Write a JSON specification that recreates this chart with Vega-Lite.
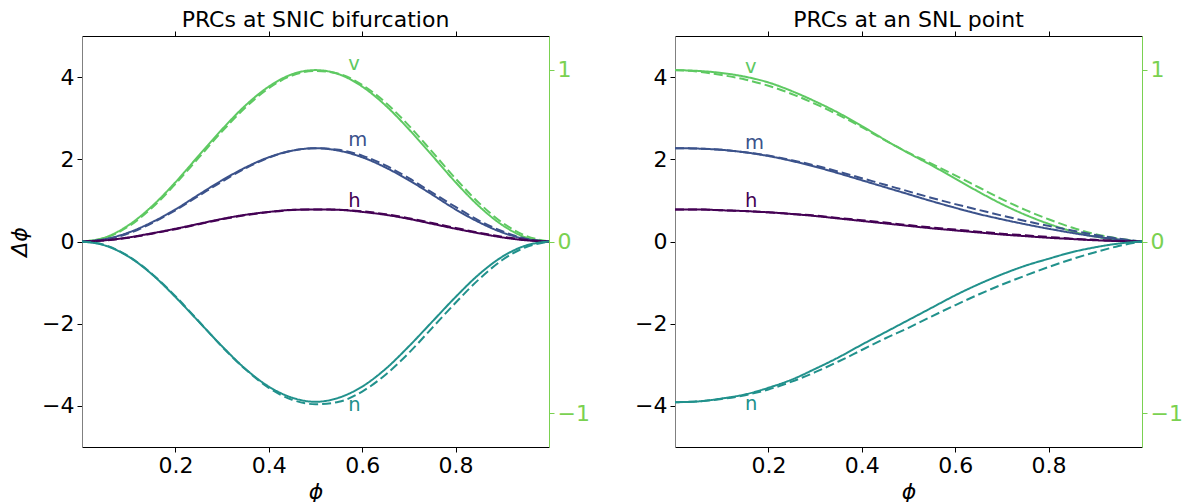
{
"$schema": "https://vega.github.io/schema/vega-lite/v6.json",
"background": "white",
"padding": {"left": 8, "top": 8, "right": 0, "bottom": 0},
"spacing": 44,
"config": {
  "font": "DejaVu Sans",
  "view": {"stroke": null},
  "axis": {"labelFont": "DejaVu Sans", "titleFont": "DejaVu Sans", "labelFontSize": 22, "titleFontSize": 22, "titleFontWeight": "normal", "labelColor": "black", "titleColor": "black", "tickColor": "black", "domainColor": "black", "grid": false, "tickSize": 5, "labelPadding": 3, "labelFlush": false, "tickWidth": 1, "domainWidth": 1},
  "title": {"font": "DejaVu Sans", "fontSize": 22, "fontWeight": "normal", "color": "black"}
},
"datasets": {
"snic": [
{"s":"v","d":"solid","x":0,"y":0},{"s":"v","d":"solid","x":0.05,"y":0.10},{"s":"v","d":"solid","x":0.1,"y":0.40},{"s":"v","d":"solid","x":0.15,"y":0.86},{"s":"v","d":"solid","x":0.2,"y":1.44},{"s":"v","d":"solid","x":0.25,"y":2.09},{"s":"v","d":"solid","x":0.3,"y":2.73},{"s":"v","d":"solid","x":0.35,"y":3.31},{"s":"v","d":"solid","x":0.4,"y":3.77},{"s":"v","d":"solid","x":0.45,"y":4.07},{"s":"v","d":"solid","x":0.5,"y":4.17},{"s":"v","d":"solid","x":0.55,"y":4.07},{"s":"v","d":"solid","x":0.6,"y":3.77},{"s":"v","d":"solid","x":0.65,"y":3.31},{"s":"v","d":"solid","x":0.7,"y":2.73},{"s":"v","d":"solid","x":0.75,"y":2.09},{"s":"v","d":"solid","x":0.8,"y":1.44},{"s":"v","d":"solid","x":0.85,"y":0.86},{"s":"v","d":"solid","x":0.9,"y":0.40},{"s":"v","d":"solid","x":0.95,"y":0.10},{"s":"v","d":"solid","x":1,"y":0},
{"s":"v","d":"dashed","x":0,"y":0},{"s":"v","d":"dashed","x":0.05,"y":0.09},{"s":"v","d":"dashed","x":0.1,"y":0.37},{"s":"v","d":"dashed","x":0.15,"y":0.82},{"s":"v","d":"dashed","x":0.2,"y":1.40},{"s":"v","d":"dashed","x":0.25,"y":2.04},{"s":"v","d":"dashed","x":0.3,"y":2.68},{"s":"v","d":"dashed","x":0.35,"y":3.26},{"s":"v","d":"dashed","x":0.4,"y":3.73},{"s":"v","d":"dashed","x":0.45,"y":4.04},{"s":"v","d":"dashed","x":0.5,"y":4.15},{"s":"v","d":"dashed","x":0.55,"y":4.08},{"s":"v","d":"dashed","x":0.6,"y":3.81},{"s":"v","d":"dashed","x":0.65,"y":3.38},{"s":"v","d":"dashed","x":0.7,"y":2.82},{"s":"v","d":"dashed","x":0.75,"y":2.18},{"s":"v","d":"dashed","x":0.8,"y":1.53},{"s":"v","d":"dashed","x":0.85,"y":0.94},{"s":"v","d":"dashed","x":0.9,"y":0.46},{"s":"v","d":"dashed","x":0.95,"y":0.14},{"s":"v","d":"dashed","x":1,"y":0},
{"s":"m","d":"solid","x":0,"y":0},{"s":"m","d":"solid","x":0.05,"y":0.06},{"s":"m","d":"solid","x":0.1,"y":0.22},{"s":"m","d":"solid","x":0.15,"y":0.47},{"s":"m","d":"solid","x":0.2,"y":0.78},{"s":"m","d":"solid","x":0.25,"y":1.14},{"s":"m","d":"solid","x":0.3,"y":1.49},{"s":"m","d":"solid","x":0.35,"y":1.80},{"s":"m","d":"solid","x":0.4,"y":2.05},{"s":"m","d":"solid","x":0.45,"y":2.21},{"s":"m","d":"solid","x":0.5,"y":2.27},{"s":"m","d":"solid","x":0.55,"y":2.21},{"s":"m","d":"solid","x":0.6,"y":2.05},{"s":"m","d":"solid","x":0.65,"y":1.80},{"s":"m","d":"solid","x":0.7,"y":1.49},{"s":"m","d":"solid","x":0.75,"y":1.14},{"s":"m","d":"solid","x":0.8,"y":0.78},{"s":"m","d":"solid","x":0.85,"y":0.47},{"s":"m","d":"solid","x":0.9,"y":0.22},{"s":"m","d":"solid","x":0.95,"y":0.06},{"s":"m","d":"solid","x":1,"y":0},
{"s":"m","d":"dashed","x":0,"y":0},{"s":"m","d":"dashed","x":0.05,"y":0.05},{"s":"m","d":"dashed","x":0.1,"y":0.20},{"s":"m","d":"dashed","x":0.15,"y":0.45},{"s":"m","d":"dashed","x":0.2,"y":0.76},{"s":"m","d":"dashed","x":0.25,"y":1.11},{"s":"m","d":"dashed","x":0.3,"y":1.46},{"s":"m","d":"dashed","x":0.35,"y":1.78},{"s":"m","d":"dashed","x":0.4,"y":2.04},{"s":"m","d":"dashed","x":0.45,"y":2.21},{"s":"m","d":"dashed","x":0.5,"y":2.27},{"s":"m","d":"dashed","x":0.55,"y":2.23},{"s":"m","d":"dashed","x":0.6,"y":2.09},{"s":"m","d":"dashed","x":0.65,"y":1.85},{"s":"m","d":"dashed","x":0.7,"y":1.54},{"s":"m","d":"dashed","x":0.75,"y":1.19},{"s":"m","d":"dashed","x":0.8,"y":0.84},{"s":"m","d":"dashed","x":0.85,"y":0.51},{"s":"m","d":"dashed","x":0.9,"y":0.25},{"s":"m","d":"dashed","x":0.95,"y":0.07},{"s":"m","d":"dashed","x":1,"y":0},
{"s":"h","d":"solid","x":0,"y":0},{"s":"h","d":"solid","x":0.05,"y":0.03},{"s":"h","d":"solid","x":0.1,"y":0.10},{"s":"h","d":"solid","x":0.15,"y":0.20},{"s":"h","d":"solid","x":0.2,"y":0.31},{"s":"h","d":"solid","x":0.25,"y":0.43},{"s":"h","d":"solid","x":0.3,"y":0.55},{"s":"h","d":"solid","x":0.35,"y":0.65},{"s":"h","d":"solid","x":0.4,"y":0.72},{"s":"h","d":"solid","x":0.45,"y":0.77},{"s":"h","d":"solid","x":0.5,"y":0.78},{"s":"h","d":"solid","x":0.55,"y":0.77},{"s":"h","d":"solid","x":0.6,"y":0.72},{"s":"h","d":"solid","x":0.65,"y":0.65},{"s":"h","d":"solid","x":0.7,"y":0.55},{"s":"h","d":"solid","x":0.75,"y":0.43},{"s":"h","d":"solid","x":0.8,"y":0.31},{"s":"h","d":"solid","x":0.85,"y":0.20},{"s":"h","d":"solid","x":0.9,"y":0.10},{"s":"h","d":"solid","x":0.95,"y":0.03},{"s":"h","d":"solid","x":1,"y":0},
{"s":"h","d":"dashed","x":0,"y":0},{"s":"h","d":"dashed","x":0.05,"y":0.025},{"s":"h","d":"dashed","x":0.1,"y":0.09},{"s":"h","d":"dashed","x":0.15,"y":0.19},{"s":"h","d":"dashed","x":0.2,"y":0.30},{"s":"h","d":"dashed","x":0.25,"y":0.42},{"s":"h","d":"dashed","x":0.3,"y":0.54},{"s":"h","d":"dashed","x":0.35,"y":0.64},{"s":"h","d":"dashed","x":0.4,"y":0.715},{"s":"h","d":"dashed","x":0.45,"y":0.765},{"s":"h","d":"dashed","x":0.5,"y":0.78},{"s":"h","d":"dashed","x":0.55,"y":0.775},{"s":"h","d":"dashed","x":0.6,"y":0.735},{"s":"h","d":"dashed","x":0.65,"y":0.665},{"s":"h","d":"dashed","x":0.7,"y":0.565},{"s":"h","d":"dashed","x":0.75,"y":0.45},{"s":"h","d":"dashed","x":0.8,"y":0.33},{"s":"h","d":"dashed","x":0.85,"y":0.215},{"s":"h","d":"dashed","x":0.9,"y":0.115},{"s":"h","d":"dashed","x":0.95,"y":0.04},{"s":"h","d":"dashed","x":1,"y":0},
{"s":"n","d":"solid","x":0,"y":0},{"s":"n","d":"solid","x":0.05,"y":-0.10},{"s":"n","d":"solid","x":0.1,"y":-0.37},{"s":"n","d":"solid","x":0.15,"y":-0.80},{"s":"n","d":"solid","x":0.2,"y":-1.35},{"s":"n","d":"solid","x":0.25,"y":-1.95},{"s":"n","d":"solid","x":0.3,"y":-2.55},{"s":"n","d":"solid","x":0.35,"y":-3.10},{"s":"n","d":"solid","x":0.4,"y":-3.53},{"s":"n","d":"solid","x":0.45,"y":-3.80},{"s":"n","d":"solid","x":0.5,"y":-3.90},{"s":"n","d":"solid","x":0.55,"y":-3.80},{"s":"n","d":"solid","x":0.6,"y":-3.53},{"s":"n","d":"solid","x":0.65,"y":-3.10},{"s":"n","d":"solid","x":0.7,"y":-2.55},{"s":"n","d":"solid","x":0.75,"y":-1.95},{"s":"n","d":"solid","x":0.8,"y":-1.35},{"s":"n","d":"solid","x":0.85,"y":-0.80},{"s":"n","d":"solid","x":0.9,"y":-0.37},{"s":"n","d":"solid","x":0.95,"y":-0.10},{"s":"n","d":"solid","x":1,"y":0},
{"s":"n","d":"dashed","x":0,"y":0},{"s":"n","d":"dashed","x":0.05,"y":-0.09},{"s":"n","d":"dashed","x":0.1,"y":-0.36},{"s":"n","d":"dashed","x":0.15,"y":-0.79},{"s":"n","d":"dashed","x":0.2,"y":-1.33},{"s":"n","d":"dashed","x":0.25,"y":-1.94},{"s":"n","d":"dashed","x":0.3,"y":-2.56},{"s":"n","d":"dashed","x":0.35,"y":-3.11},{"s":"n","d":"dashed","x":0.4,"y":-3.56},{"s":"n","d":"dashed","x":0.45,"y":-3.85},{"s":"n","d":"dashed","x":0.5,"y":-3.96},{"s":"n","d":"dashed","x":0.55,"y":-3.90},{"s":"n","d":"dashed","x":0.6,"y":-3.65},{"s":"n","d":"dashed","x":0.65,"y":-3.24},{"s":"n","d":"dashed","x":0.7,"y":-2.71},{"s":"n","d":"dashed","x":0.75,"y":-2.10},{"s":"n","d":"dashed","x":0.8,"y":-1.49},{"s":"n","d":"dashed","x":0.85,"y":-0.92},{"s":"n","d":"dashed","x":0.9,"y":-0.45},{"s":"n","d":"dashed","x":0.95,"y":-0.14},{"s":"n","d":"dashed","x":1,"y":0}
],
"snl": [
{"s":"v","d":"solid","x":0,"y":4.17},{"s":"v","d":"solid","x":0.05,"y":4.15},{"s":"v","d":"solid","x":0.1,"y":4.10},{"s":"v","d":"solid","x":0.15,"y":4.01},{"s":"v","d":"solid","x":0.2,"y":3.87},{"s":"v","d":"solid","x":0.25,"y":3.66},{"s":"v","d":"solid","x":0.3,"y":3.41},{"s":"v","d":"solid","x":0.35,"y":3.13},{"s":"v","d":"solid","x":0.4,"y":2.81},{"s":"v","d":"solid","x":0.45,"y":2.47},{"s":"v","d":"solid","x":0.5,"y":2.15},{"s":"v","d":"solid","x":0.55,"y":1.85},{"s":"v","d":"solid","x":0.6,"y":1.53},{"s":"v","d":"solid","x":0.65,"y":1.21},{"s":"v","d":"solid","x":0.7,"y":0.91},{"s":"v","d":"solid","x":0.75,"y":0.65},{"s":"v","d":"solid","x":0.8,"y":0.43},{"s":"v","d":"solid","x":0.85,"y":0.25},{"s":"v","d":"solid","x":0.9,"y":0.12},{"s":"v","d":"solid","x":0.95,"y":0.04},{"s":"v","d":"solid","x":1,"y":0},
{"s":"v","d":"dashed","x":0,"y":4.17},{"s":"v","d":"dashed","x":0.05,"y":4.13},{"s":"v","d":"dashed","x":0.1,"y":4.05},{"s":"v","d":"dashed","x":0.15,"y":3.94},{"s":"v","d":"dashed","x":0.2,"y":3.79},{"s":"v","d":"dashed","x":0.25,"y":3.59},{"s":"v","d":"dashed","x":0.3,"y":3.35},{"s":"v","d":"dashed","x":0.35,"y":3.08},{"s":"v","d":"dashed","x":0.4,"y":2.78},{"s":"v","d":"dashed","x":0.45,"y":2.46},{"s":"v","d":"dashed","x":0.5,"y":2.16},{"s":"v","d":"dashed","x":0.55,"y":1.89},{"s":"v","d":"dashed","x":0.6,"y":1.61},{"s":"v","d":"dashed","x":0.65,"y":1.32},{"s":"v","d":"dashed","x":0.7,"y":1.03},{"s":"v","d":"dashed","x":0.75,"y":0.77},{"s":"v","d":"dashed","x":0.8,"y":0.54},{"s":"v","d":"dashed","x":0.85,"y":0.34},{"s":"v","d":"dashed","x":0.9,"y":0.18},{"s":"v","d":"dashed","x":0.95,"y":0.07},{"s":"v","d":"dashed","x":1,"y":0},
{"s":"m","d":"solid","x":0,"y":2.27},{"s":"m","d":"solid","x":0.05,"y":2.26},{"s":"m","d":"solid","x":0.1,"y":2.23},{"s":"m","d":"solid","x":0.15,"y":2.17},{"s":"m","d":"solid","x":0.2,"y":2.08},{"s":"m","d":"solid","x":0.25,"y":1.96},{"s":"m","d":"solid","x":0.3,"y":1.82},{"s":"m","d":"solid","x":0.35,"y":1.66},{"s":"m","d":"solid","x":0.4,"y":1.49},{"s":"m","d":"solid","x":0.45,"y":1.32},{"s":"m","d":"solid","x":0.5,"y":1.15},{"s":"m","d":"solid","x":0.55,"y":0.98},{"s":"m","d":"solid","x":0.6,"y":0.82},{"s":"m","d":"solid","x":0.65,"y":0.67},{"s":"m","d":"solid","x":0.7,"y":0.54},{"s":"m","d":"solid","x":0.75,"y":0.42},{"s":"m","d":"solid","x":0.8,"y":0.31},{"s":"m","d":"solid","x":0.85,"y":0.21},{"s":"m","d":"solid","x":0.9,"y":0.12},{"s":"m","d":"solid","x":0.95,"y":0.05},{"s":"m","d":"solid","x":1,"y":0},
{"s":"m","d":"dashed","x":0,"y":2.27},{"s":"m","d":"dashed","x":0.05,"y":2.26},{"s":"m","d":"dashed","x":0.1,"y":2.23},{"s":"m","d":"dashed","x":0.15,"y":2.17},{"s":"m","d":"dashed","x":0.2,"y":2.09},{"s":"m","d":"dashed","x":0.25,"y":1.98},{"s":"m","d":"dashed","x":0.3,"y":1.85},{"s":"m","d":"dashed","x":0.35,"y":1.70},{"s":"m","d":"dashed","x":0.4,"y":1.54},{"s":"m","d":"dashed","x":0.45,"y":1.38},{"s":"m","d":"dashed","x":0.5,"y":1.22},{"s":"m","d":"dashed","x":0.55,"y":1.06},{"s":"m","d":"dashed","x":0.6,"y":0.91},{"s":"m","d":"dashed","x":0.65,"y":0.77},{"s":"m","d":"dashed","x":0.7,"y":0.63},{"s":"m","d":"dashed","x":0.75,"y":0.50},{"s":"m","d":"dashed","x":0.8,"y":0.38},{"s":"m","d":"dashed","x":0.85,"y":0.27},{"s":"m","d":"dashed","x":0.9,"y":0.16},{"s":"m","d":"dashed","x":0.95,"y":0.07},{"s":"m","d":"dashed","x":1,"y":0},
{"s":"h","d":"solid","x":0,"y":0.78},{"s":"h","d":"solid","x":0.05,"y":0.78},{"s":"h","d":"solid","x":0.1,"y":0.76},{"s":"h","d":"solid","x":0.15,"y":0.74},{"s":"h","d":"solid","x":0.2,"y":0.71},{"s":"h","d":"solid","x":0.25,"y":0.67},{"s":"h","d":"solid","x":0.3,"y":0.62},{"s":"h","d":"solid","x":0.35,"y":0.56},{"s":"h","d":"solid","x":0.4,"y":0.50},{"s":"h","d":"solid","x":0.45,"y":0.44},{"s":"h","d":"solid","x":0.5,"y":0.38},{"s":"h","d":"solid","x":0.55,"y":0.32},{"s":"h","d":"solid","x":0.6,"y":0.27},{"s":"h","d":"solid","x":0.65,"y":0.22},{"s":"h","d":"solid","x":0.7,"y":0.17},{"s":"h","d":"solid","x":0.75,"y":0.13},{"s":"h","d":"solid","x":0.8,"y":0.09},{"s":"h","d":"solid","x":0.85,"y":0.06},{"s":"h","d":"solid","x":0.9,"y":0.03},{"s":"h","d":"solid","x":0.95,"y":0.01},{"s":"h","d":"solid","x":1,"y":0},
{"s":"h","d":"dashed","x":0,"y":0.78},{"s":"h","d":"dashed","x":0.05,"y":0.78},{"s":"h","d":"dashed","x":0.1,"y":0.76},{"s":"h","d":"dashed","x":0.15,"y":0.74},{"s":"h","d":"dashed","x":0.2,"y":0.71},{"s":"h","d":"dashed","x":0.25,"y":0.67},{"s":"h","d":"dashed","x":0.3,"y":0.63},{"s":"h","d":"dashed","x":0.35,"y":0.57},{"s":"h","d":"dashed","x":0.4,"y":0.52},{"s":"h","d":"dashed","x":0.45,"y":0.46},{"s":"h","d":"dashed","x":0.5,"y":0.40},{"s":"h","d":"dashed","x":0.55,"y":0.34},{"s":"h","d":"dashed","x":0.6,"y":0.29},{"s":"h","d":"dashed","x":0.65,"y":0.24},{"s":"h","d":"dashed","x":0.7,"y":0.19},{"s":"h","d":"dashed","x":0.75,"y":0.15},{"s":"h","d":"dashed","x":0.8,"y":0.11},{"s":"h","d":"dashed","x":0.85,"y":0.07},{"s":"h","d":"dashed","x":0.9,"y":0.04},{"s":"h","d":"dashed","x":0.95,"y":0.015},{"s":"h","d":"dashed","x":1,"y":0},
{"s":"n","d":"solid","x":0,"y":-3.91},{"s":"n","d":"solid","x":0.05,"y":-3.89},{"s":"n","d":"solid","x":0.1,"y":-3.82},{"s":"n","d":"solid","x":0.15,"y":-3.72},{"s":"n","d":"solid","x":0.2,"y":-3.56},{"s":"n","d":"solid","x":0.25,"y":-3.36},{"s":"n","d":"solid","x":0.3,"y":-3.10},{"s":"n","d":"solid","x":0.35,"y":-2.82},{"s":"n","d":"solid","x":0.4,"y":-2.51},{"s":"n","d":"solid","x":0.45,"y":-2.21},{"s":"n","d":"solid","x":0.5,"y":-1.91},{"s":"n","d":"solid","x":0.55,"y":-1.61},{"s":"n","d":"solid","x":0.6,"y":-1.31},{"s":"n","d":"solid","x":0.65,"y":-1.04},{"s":"n","d":"solid","x":0.7,"y":-0.80},{"s":"n","d":"solid","x":0.75,"y":-0.59},{"s":"n","d":"solid","x":0.8,"y":-0.42},{"s":"n","d":"solid","x":0.85,"y":-0.26},{"s":"n","d":"solid","x":0.9,"y":-0.14},{"s":"n","d":"solid","x":0.95,"y":-0.05},{"s":"n","d":"solid","x":1,"y":0},
{"s":"n","d":"dashed","x":0,"y":-3.91},{"s":"n","d":"dashed","x":0.05,"y":-3.89},{"s":"n","d":"dashed","x":0.1,"y":-3.83},{"s":"n","d":"dashed","x":0.15,"y":-3.74},{"s":"n","d":"dashed","x":0.2,"y":-3.60},{"s":"n","d":"dashed","x":0.25,"y":-3.41},{"s":"n","d":"dashed","x":0.3,"y":-3.18},{"s":"n","d":"dashed","x":0.35,"y":-2.92},{"s":"n","d":"dashed","x":0.4,"y":-2.64},{"s":"n","d":"dashed","x":0.45,"y":-2.36},{"s":"n","d":"dashed","x":0.5,"y":-2.10},{"s":"n","d":"dashed","x":0.55,"y":-1.82},{"s":"n","d":"dashed","x":0.6,"y":-1.55},{"s":"n","d":"dashed","x":0.65,"y":-1.29},{"s":"n","d":"dashed","x":0.7,"y":-1.05},{"s":"n","d":"dashed","x":0.75,"y":-0.83},{"s":"n","d":"dashed","x":0.8,"y":-0.62},{"s":"n","d":"dashed","x":0.85,"y":-0.43},{"s":"n","d":"dashed","x":0.9,"y":-0.26},{"s":"n","d":"dashed","x":0.95,"y":-0.11},{"s":"n","d":"dashed","x":1,"y":0}
],
"lab1": [{"s":"v","x":0.57,"y":4.17},{"s":"m","x":0.57,"y":2.33},{"s":"h","x":0.57,"y":0.83},{"s":"n","x":0.57,"y":-4.13}],
"lab2": [{"s":"v","x":0.15,"y":4.10},{"s":"m","x":0.15,"y":2.25},{"s":"h","x":0.15,"y":0.83},{"s":"n","x":0.15,"y":-4.09}],
"ax": [{"x":0.5,"r":0}]
},
"hconcat": [
{
  "width": 467, "height": 411,
  "title": {"text": "PRCs at SNIC bifurcation", "offset": -1},
  "resolve": {"scale": {"y": "independent"}, "axis": {"x": "independent", "y": "independent"}},
  "layer": [
    {"data": {"name": "snic"},
     "mark": {"type": "line", "strokeWidth": 2, "interpolate": "monotone"},
     "encoding": {
       "x": {"field": "x", "type": "quantitative", "scale": {"domain": [0, 1], "nice": false, "zero": false},
             "axis": {"orient": "bottom", "values": [0.2, 0.4, 0.6, 0.8], "format": ".1f", "title": "ϕ", "titleFontStyle": "italic", "titlePadding": 5, "labelPadding": 3}},
       "y": {"field": "y", "type": "quantitative", "scale": {"domain": [-5, 5], "nice": false, "zero": false},
             "axis": {"orient": "left", "values": [-4, -2, 0, 2, 4], "format": "d", "title": "Δϕ", "titleFontStyle": "italic", "titlePadding": 10, "domainColor": "#808080"}},
       "color": {"field": "s", "type": "nominal", "scale": {"domain": ["h", "m", "n", "v"], "range": ["#440154", "#3b528b", "#21918c", "#5ec962"]}, "legend": null},
       "strokeDash": {"field": "d", "type": "nominal", "scale": {"domain": ["solid", "dashed"], "range": [[1, 0], [9, 4]]}, "legend": null}
     }},
    {"data": {"name": "lab1"},
     "mark": {"type": "text", "align": "left", "baseline": "alphabetic", "fontSize": 19.5, "font": "DejaVu Sans"},
     "encoding": {
       "x": {"field": "x", "type": "quantitative", "axis": null},
       "y": {"field": "y", "type": "quantitative", "scale": {"domain": [-5, 5], "nice": false, "zero": false}, "axis": null},
       "text": {"field": "s"},
       "color": {"field": "s", "type": "nominal", "legend": null}
     }},
    {"data": {"name": "ax"},
     "mark": {"type": "point", "opacity": 0},
     "encoding": {
       "x": {"field": "x", "type": "quantitative", "axis": {"orient": "top", "values": [0.2, 0.4, 0.6, 0.8], "labels": false, "title": null}},
       "y": {"field": "r", "type": "quantitative", "scale": {"domain": [-1.198, 1.198], "nice": false, "zero": false},
             "axis": {"orient": "right", "values": [-1, 0, 1], "format": "d", "title": null, "domainColor": "#7ad151", "tickColor": "#7ad151", "labelColor": "#7ad151"}}
     }}
  ]
},
{
  "width": 467, "height": 411,
  "title": {"text": "PRCs at an SNL point", "offset": -1},
  "resolve": {"scale": {"y": "independent"}, "axis": {"x": "independent", "y": "independent"}},
  "layer": [
    {"data": {"name": "snl"},
     "mark": {"type": "line", "strokeWidth": 2, "interpolate": "monotone"},
     "encoding": {
       "x": {"field": "x", "type": "quantitative", "scale": {"domain": [0, 1], "nice": false, "zero": false},
             "axis": {"orient": "bottom", "values": [0.2, 0.4, 0.6, 0.8], "format": ".1f", "title": "ϕ", "titleFontStyle": "italic", "titlePadding": 5, "labelPadding": 3}},
       "y": {"field": "y", "type": "quantitative", "scale": {"domain": [-5, 5], "nice": false, "zero": false},
             "axis": {"orient": "left", "values": [-4, -2, 0, 2, 4], "format": "d", "title": null, "domainColor": "#808080"}},
       "color": {"field": "s", "type": "nominal", "scale": {"domain": ["h", "m", "n", "v"], "range": ["#440154", "#3b528b", "#21918c", "#5ec962"]}, "legend": null},
       "strokeDash": {"field": "d", "type": "nominal", "scale": {"domain": ["solid", "dashed"], "range": [[1, 0], [9, 4]]}, "legend": null}
     }},
    {"data": {"name": "lab2"},
     "mark": {"type": "text", "align": "left", "baseline": "alphabetic", "fontSize": 19.5, "font": "DejaVu Sans"},
     "encoding": {
       "x": {"field": "x", "type": "quantitative", "axis": null},
       "y": {"field": "y", "type": "quantitative", "scale": {"domain": [-5, 5], "nice": false, "zero": false}, "axis": null},
       "text": {"field": "s"},
       "color": {"field": "s", "type": "nominal", "legend": null}
     }},
    {"data": {"name": "ax"},
     "mark": {"type": "point", "opacity": 0},
     "encoding": {
       "x": {"field": "x", "type": "quantitative", "axis": {"orient": "top", "values": [0.2, 0.4, 0.6, 0.8], "labels": false, "title": null}},
       "y": {"field": "r", "type": "quantitative", "scale": {"domain": [-1.198, 1.198], "nice": false, "zero": false},
             "axis": {"orient": "right", "values": [-1, 0, 1], "format": "d", "title": null, "domainColor": "#7ad151", "tickColor": "#7ad151", "labelColor": "#7ad151"}}
     }}
  ]
}
]
}
